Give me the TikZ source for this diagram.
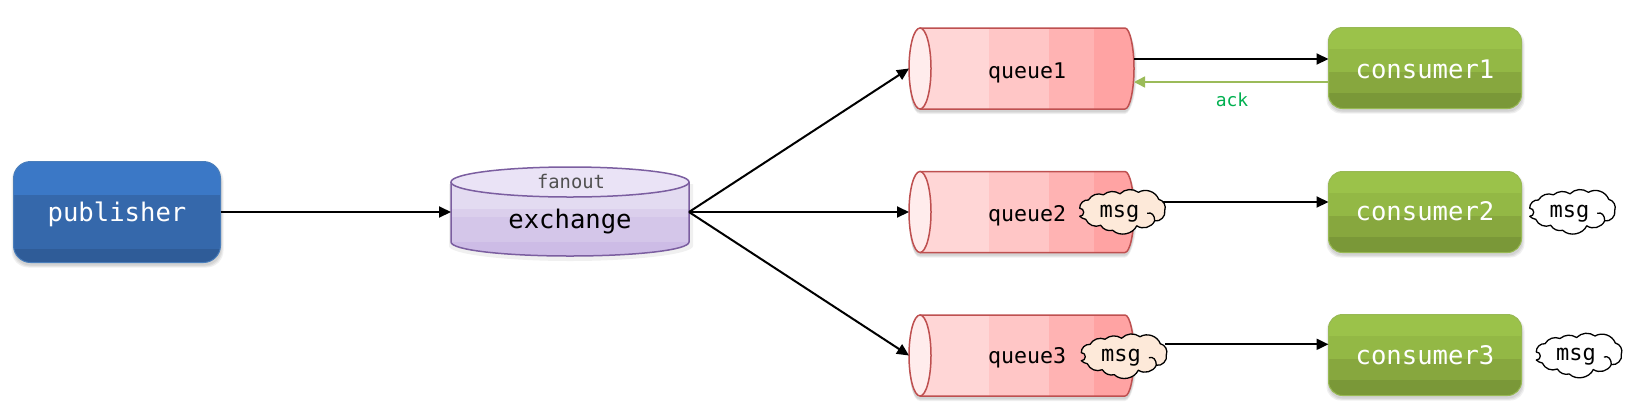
\documentclass[tikz,border=0pt]{standalone}
\usepackage{fontspec}
\setmonofont{DejaVu Sans Mono}
\usetikzlibrary{arrows.meta,calc}
\definecolor{pubA}{HTML}{3B78C6}
\definecolor{pubB}{HTML}{3568AB}
\definecolor{pubC}{HTML}{2F5C98}
\definecolor{pubL}{HTML}{4A7EBB}
\definecolor{conA}{HTML}{9BC24A}
\definecolor{conB}{HTML}{93B845}
\definecolor{conC}{HTML}{87A73E}
\definecolor{conD}{HTML}{7A9838}
\definecolor{conL}{HTML}{98B954}
\definecolor{exE}{HTML}{EAE3F6}
\definecolor{exA}{HTML}{E3DBF1}
\definecolor{exB}{HTML}{DBCFEC}
\definecolor{exC}{HTML}{D4C6E9}
\definecolor{exD}{HTML}{CDBCE6}
\definecolor{exL}{HTML}{7B5EA0}
\definecolor{qE}{HTML}{FFECEC}
\definecolor{qA}{HTML}{FFD6D6}
\definecolor{qB}{HTML}{FFC6C6}
\definecolor{qC}{HTML}{FFB3B3}
\definecolor{qD}{HTML}{FFA3A3}
\definecolor{qL}{HTML}{BE5050}
\definecolor{cloudfill}{HTML}{FDE9D9}
\definecolor{ackgreen}{HTML}{00B050}
\definecolor{acklink}{HTML}{9BBB59}
\definecolor{fanoutgrey}{HTML}{505050}
\tikzset{
  x=1pt,y=-1pt,
  boxlabel/.style={inner sep=0pt,outer sep=0pt,text depth=0pt,font=\ttfamily\fontsize{25.6}{26}\selectfont},
  queuelabel/.style={boxlabel,font=\ttfamily\fontsize{21.6}{22}\selectfont},
  msgtext/.style={inner sep=0pt,outer sep=0pt,font=\ttfamily\fontsize{22}{22}\selectfont},
  cloudline/.style={line width=1.3pt,line join=round,draw=black},
  link/.style={line width=2pt,-{Triangle[length=12pt,width=11pt]}},
  acklinkstyle/.style={line width=1.5pt,draw=acklink,-{Triangle[length=11pt,width=11pt,fill=acklink]}},
  bl/.style={bend left=#1},
  softshadow/.style={fill=black,fill opacity=0.06,draw=none}
}
% name, x0, y0, x1, y1, radius, band-1 end, band-2 end, band-3 end, colours A-D, line colour, text colour, text height, text
\newcommand\bandbox[9]{%
  \def\bbname{#1}\def\bbxa{#2}\def\bbya{#3}\def\bbxb{#4}\def\bbyb{#5}\def\bbr{#6}\def\bbu{#7}\def\bbv{#8}\def\bbw{#9}\bandboxii}
\newcommand\bandboxii[8]{%
  \foreach \g in {0,1,2}{\fill[softshadow,rounded corners=\bbr pt] (\bbxa-2+\g,\bbya+2+\g) rectangle (\bbxb+3-\g,\bbyb+5-\g);}
  \begin{scope}
    \clip[rounded corners=\bbr pt] (\bbxa,\bbya) rectangle (\bbxb,\bbyb);
    \fill[#1] (\bbxa,\bbya) rectangle (\bbxb,\bbu);
    \fill[#2] (\bbxa,\bbu) rectangle (\bbxb,\bbv);
    \fill[#3] (\bbxa,\bbv) rectangle (\bbxb,\bbw);
    \fill[#4] (\bbxa,\bbw) rectangle (\bbxb,\bbyb);
  \end{scope}
  \node[boxlabel,draw=#5,line width=1pt,rounded corners=\bbr pt,minimum width=\bbxb-\bbxa,minimum height=\bbyb-\bbya,text=#6,text height=#7pt] (\bbname) at ({(\bbxa+\bbxb)/2},{(\bbya+\bbyb)/2}) {#8};}
% name, top y, bottom y, text height, text
\newcommand\queuecyl[5]{%
  \pgfmathsetmacro\qm{(#2+#3)/2}%
  \foreach \g in {0,1,2}{\fill[softshadow] (920,#2+2+\g) .. controls (912,#2+2+\g) and (909,#2+20) .. (909,\qm+3) .. controls (909,#3-17) and (912,#3+5-\g) .. (920,#3+5-\g) -- (1125,#3+5-\g) .. controls (1131,#3+5-\g) and (1137-\g,#3-17) .. (1137-\g,\qm+3) .. controls (1137-\g,#2+20) and (1131,#2+2+\g) .. (1125,#2+2+\g) -- cycle;}
  \begin{scope}
    \clip (920,#2) .. controls (912,#2) and (909,#2+20) .. (909,\qm) .. controls (909,#3-20) and (912,#3) .. (920,#3) -- (1125,#3) .. controls (1130,#3) and (1134,#3-20) .. (1134,\qm) .. controls (1134,#2+20) and (1130,#2) .. (1125,#2) -- cycle;
    \fill[qA] (905,#2) rectangle (989,#3);
    \fill[qB] (989,#2) rectangle (1049,#3);
    \fill[qC] (1049,#2) rectangle (1094,#3);
    \fill[qD] (1094,#2) rectangle (1138,#3);
  \end{scope}
  \draw[qL,line width=1.5pt] (920,#2) -- (1125,#2) .. controls (1130,#2) and (1134,#2+20) .. (1134,\qm) .. controls (1134,#3-20) and (1130,#3) .. (1125,#3) -- (920,#3);
  \draw[qL,fill=qE,line width=1.5pt] (920,\qm) ellipse [x radius=11,y radius=({(#3-#2)/2})];
  \node[queuelabel,minimum width=225pt,minimum height=#3-#2,text height=#4pt] (#1) at (1021.5,\qm) {\hspace*{11pt}#5};}
% name, centre x, centre y, fill
\newcommand\msgcloud[4]{%
  \begin{scope}[shift={(#2,#3)}]
    \draw[cloudline,fill=#4] (-33.3,-11.3) to[bl=40] (-18.3,-16.5) to[bl=35] (-1.7,-17.5) to[bl=40] (16.7,-19) to[bl=50] (37,-12) to[bl=50] (43,-0.7) to[bl=60] (33,9.5) to[bl=50] (15,14.5) to[bl=55] (-9,19) to[bl=35] (-21,14) to[bl=45] (-36,8) to[bl=15] (-42,5) to[bl=-50] (-38,1) to[bl=-50] (-42,-3) to[bl=50] cycle;
    \draw[cloudline] (25.5,2) .. controls (30,0.5) and (33,4) .. (33,9.5);
    \coordinate (#1out) at (41.7,-9.7);
    \node[msgtext,anchor=base] (#1) at (-2.3,5.7) {msg};
  \end{scope}}
\begin{document}
\begin{tikzpicture}
\useasboundingbox (0,0) rectangle (1638,416);
\fill[white] (0,0) rectangle (1638,416);

% publisher
\bandbox{pub}{13.5}{161.5}{220.5}{262.5}{17}{195}{249}{249}{pubA}{pubB}{pubB}{pubC}{pubL}{white}{18}{publisher}

% exchange
\fill[softshadow] (449,184) -- (449,246) .. controls (449,254) and (504,261) .. (570,261) .. controls (636,261) and (693,254) .. (693,246) -- (693,184) -- cycle;
\begin{scope}
  \clip (451,182) -- (451,242) .. controls (451,250) and (504,256) .. (570,256) .. controls (636,256) and (689,250) .. (689,242) -- (689,182) -- cycle;
  \fill[exA] (445,165) rectangle (695,209);
  \fill[exB] (445,209) rectangle (695,217);
  \fill[exC] (445,217) rectangle (695,242);
  \fill[exD] (445,242) rectangle (695,260);
\end{scope}
\draw[exL,line width=1.5pt] (451,182) -- (451,242) .. controls (451,250) and (504,256) .. (570,256) .. controls (636,256) and (689,250) .. (689,242) -- (689,182);
\draw[exL,fill=exE,line width=1.5pt] (570,182) ellipse [x radius=119,y radius=15];
\node[boxlabel,minimum width=238pt,minimum height=88pt,text height=32pt] (exch) at (570,212) {exchange};
\node[inner sep=0pt,anchor=base,text=fanoutgrey,font=\ttfamily\fontsize{18.8}{19}\selectfont] (fanout) at (571,188) {fanout};

% queues
\queuecyl{q1}{28}{109}{19}{queue1}
\queuecyl{q2}{171.5}{252.5}{18}{queue2}
\queuecyl{q3}{315}{396}{15}{queue3}

% consumers
\bandbox{c1}{1328.5}{27.5}{1521.5}{108.5}{14}{49}{72}{93}{conA}{conB}{conC}{conD}{conL}{white}{20}{consumer1}
\bandbox{c2}{1328.5}{171.5}{1521.5}{252.5}{14}{193}{216}{237}{conA}{conB}{conC}{conD}{conL}{white}{16}{consumer2}
\bandbox{c3}{1328.5}{314.5}{1521.5}{395.5}{14}{336}{359}{380}{conA}{conB}{conC}{conD}{conL}{white}{18}{consumer3}

% clouds
\msgcloud{m2}{1121.7}{211.3}{cloudfill}
\msgcloud{m3}{1123.3}{355.7}{cloudfill}
\msgcloud{m2b}{1571.7}{211.3}{white}
\msgcloud{m3b}{1578.3}{355}{white}

% connection points
\coordinate (c1in) at ($(c1.west)+(0,-9)$);
\coordinate (c1ack) at ($(c1.west)+(0,14)$);
\coordinate (c2in) at ($(c2.west)+(0,-10)$);
\coordinate (c3in) at ($(c3.west)+(0,-10.7)$);

% connectors
\draw[link] (pub.east) -- (exch.west);
\draw[link] (exch.east) -- (q1.west);
\draw[link] (exch.east) -- (q2.west);
\draw[link] (exch.east) -- (q3.west);
\draw[link] (q1.east |- c1in) -- (c1in);
\draw[acklinkstyle] (c1ack) -- (q1.east |- c1ack);
\draw[link] (m2out |- c2in) -- (c2in);
\draw[link] (m3out |- c3in) -- (c3in);
\node[inner sep=0pt,anchor=base,text=ackgreen,font=\ttfamily\fontsize{18}{18}\selectfont] (ack) at (1232,106) {ack};
\end{tikzpicture}
\end{document}
